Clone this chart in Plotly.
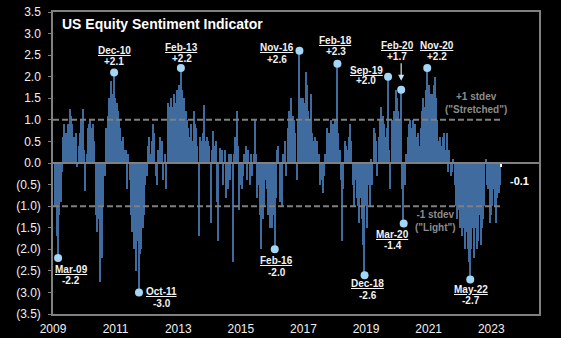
import pandas as pd
import plotly.graph_objects as go

# ---------------- data (semi-monthly readings, 1st and 15th) ----------------
v2009 = [-1.0, -1.7, -2.2, -1.2, -0.9, -0.2, 0.6, 0.9, 0.7, 0.5, 0.9, 1.25,
         1.1, 0.9, 0.6, 0.5, 0.7, -0.1, 0.4, 0.7, 1.0, 1.25]  # from Feb
v2010 = [0.3, -0.65, 0.2, 0.8, 0.9, 1.0, 0.8, 0.9, 0.5, -1.2, -1.6, -1.3,
         -2.75, -1.8, -2.2, -1.0, -0.3, 0.8, 1.1, 1.5, 1.3, 1.9, 1.6, 2.1]
v2011 = [1.5, 1.4, 1.2, 1.0, 0.8, 0.5, 0.6, 0.3, 0.3, -0.6, 0.2, -0.4,
         -1.2, -1.6, -2.0, -1.9, -2.5, -1.8, -3.0, -2.1, -2.0, -1.5, -1.2, -0.5]
v2012 = [-0.3, 0.4, 0.6, 0.2, 0.5, 0.9, 0.7, -0.3, -0.5, 0.3, 0.6, 0.2,
         0.5, -0.4, 0.2, -0.6, 1.4, 1.0, 1.3, 1.5, 1.3, 1.6, 1.4, 1.7]
v2013 = [1.6, 1.8, 2.2, 1.7, 1.4, 1.5, 1.2, 1.0, 0.8, 0.6, 0.9, 0.5,
         1.2, 0.9, 0.8, 0.4, -1.7, 0.6, 0.5, 0.7, 1.35, 0.5, 0.6, 0.5]
v2014 = [0.4, -1.4, 0.3, 0.75, 0.4, 0.5, -0.9, -1.8, 0.35, 0.2, 0.3, -0.5,
         0.3, -0.8, -0.6, 0.2, -0.4, 0.2, -2.3, 0.2, 0.6, 1.2, 0.4, -1.1]
v2015 = [-0.5, -0.6, -0.3, 0.2, 0.4, -0.4, 0.3, -0.5, 0.2, -0.3, 0.2, 1.0,
         0.2, -0.8, -0.5, -1.2, -2.0, -1.3, -1.0, -0.4, -0.6, -1.2, -1.0, -1.5]
v2016 = [-1.5, -1.2, -2.0, -0.8, 0.3, 0.4, -0.9, -0.6, -1.0, 0.2, 0.5, -0.3,
         0.8, 1.2, 1.0, 1.5, 1.1, 1.0, 0.7, -0.4, 1.0, 2.6, 1.5, 1.3]
v2017 = [1.5, 1.4, 2.1, 1.8, 1.2, 1.0, 1.6, 0.7, 0.5, 0.6, 0.4, 0.5,
         0.2, -0.5, -0.4, -0.7, -0.3, 0.2, 0.8, 0.5, 0.7, 1.0, 0.6, 0.9]
v2018 = [1.0, 0.8, 2.3, 0.7, 0.3, -0.4, -1.8, -0.6, 0.5, 0.4, 0.3, 0.6,
         0.9, 0.5, -0.5, -1.0, -0.4, -0.8, -1.0, -1.4, -0.8, -1.3, -1.9, -2.6]
v2019 = [-1.0, -1.5, -0.5, -1.0, 0.1, -0.5, 0.8, 0.7, 0.5, -0.3, 0.6, 1.0,
         1.3, 1.1, 0.9, 0.6, 0.8, 2.0, 0.3, -0.6, 1.0, 0.8, 1.2, 1.7]
v2020 = [1.5, 1.2, 1.0, 1.7, -0.6, -1.4, -0.5, 0.2, 0.6, 0.9, 1.0, 0.8,
         1.0, 0.8, 0.9, 0.6, 0.7, 0.4, 0.8, 1.2, 1.5, 1.3, 1.7, 2.2]
v2021 = [1.8, 1.6, 1.4, 1.6, 1.8, 2.0, 1.5, 1.0, 0.5, 0.6, 0.4, 0.6,
         0.7, 0.3, 0.7, -0.2, 0.3, -0.3, -0.2, 0.1, -0.5, -1.0, -1.3, -1.1]
v2022 = [-1.5, -1.3, -1.7, -1.5, -2.0, -1.6, -2.0, -2.3, -2.7, -2.0, -1.5, -2.2,
         -1.5, -2.0, -1.8, -1.2, -1.9, -1.5, -1.3, -1.0, 0.1, -0.5, -0.6, -1.4]
v2023 = [-1.2, -1.0, -0.6, -1.0, -1.4, -0.8, -0.7, -0.5, -0.1]  # to May

values = (v2009 + v2010 + v2011 + v2012 + v2013 + v2014 + v2015 + v2016 +
          v2017 + v2018 + v2019 + v2020 + v2021 + v2022 + v2023)
start_date = "2009-02-01"
stdev_levels = [1.0, -1.0]

# labelled extremes
label_dates = ["2009-03-01", "2010-12-15", "2011-10-01", "2013-02-01", "2016-02-01",
               "2016-11-15", "2018-02-01", "2018-12-15", "2019-09-15", "2020-02-15",
               "2020-03-15", "2020-12-15", "2022-05-01"]
label_names = ["Mar-09", "Dec-10", "Oct-11", "Feb-13", "Feb-16", "Nov-16", "Feb-18",
               "Dec-18", "Sep-19", "Feb-20", "Mar-20", "Nov-20", "May-22"]
label_texts = ["-2.2", "+2.1", "-3.0", "+2.2", "-2.0", "+2.6", "+2.3",
               "-2.6", "+2.0", "+1.7", "-1.4", "+2.2", "-2.7"]
# (xshift px, name yshift px, value yshift px)
label_offsets = [(13, -11.5, -23), (0, 21.5, 10.5), (23, 0.5, -11), (1, 21, 10),
                 (2, -11.5, -23), (-22.5, 3, -8.5), (-1.5, 23, 12), (3, -8.5, -20),
                 (-22, 6, -4), (-4, 44.5, 33), (-11, -11.5, -22.5), (10, 23, 11.5),
                 (0.5, -10.5, -21.5)]

year_ticks = [2009, 2011, 2013, 2015, 2017, 2019, 2021, 2023]
y_ticks = [3.5, 3.0, 2.5, 2.0, 1.5, 1.0, 0.5, 0.0, -0.5, -1.0, -1.5, -2.0, -2.5, -3.0, -3.5]
y_ticktext = ["3.5", "3.0", "2.5", "2.0", "1.5", "1.0", "0.5", "0.0",
              "(0.5)", "(1.0)", "(1.5)", "(2.0)", "(2.5)", "(3.0)", "(3.5)"]

# ---------------- figure ----------------
dates = pd.date_range(start_date, periods=len(values), freq="SMS")
series = pd.Series(values, index=dates)

FONT = "Liberation Sans, Arial, sans-serif"
BAR = "#3f6b9e"
GRAY = "#808080"
DOT = "#a4d6f7"

colors = [BAR] * (len(values) - 1) + ["#ffffff"]
widths = [16 * 86400000] * (len(values) - 1) + [20 * 86400000]

fig = go.Figure()
fig.add_trace(go.Bar(x=dates, y=values, width=widths,
                     marker=dict(color=colors, line=dict(width=0)),
                     hoverinfo="skip", showlegend=False))

ld = pd.to_datetime(label_dates)
fig.add_trace(go.Scatter(x=ld, y=[series[d] for d in ld], mode="markers",
                         marker=dict(color=DOT, size=8, line=dict(width=0)),
                         hoverinfo="skip", showlegend=False))

shapes = []
for lv in stdev_levels:
    shapes.append(dict(type="line", xref="x", yref="y", x0="2009-01-01", x1=dates[-1],
                       y0=lv, y1=lv, line=dict(color=GRAY, width=2, dash="6px,3px"),
                       layer="above"))
shapes.append(dict(type="line", xref="paper", yref="y", x0=0, x1=1, y0=0, y1=0,
                   line=dict(color=GRAY, width=2), layer="above"))

ann = []
ann.append(dict(text="<b>US Equity Sentiment Indicator</b>", xref="paper", yref="paper",
                x=(60 - 53) / 486, y=1 - 12 / 302, xanchor="left", yanchor="middle",
                showarrow=False, font=dict(family=FONT, size=14, color="#ffffff")))
for d, name, txt, (dx, dyl, dyv) in zip(ld, label_names, label_texts, label_offsets):
    yv = series[d]
    ann.append(dict(text="<b>" + name + "</b>", x=d, y=yv, xshift=dx, yshift=dyl,
                    showarrow=False, xanchor="center", yanchor="middle",
                    font=dict(family=FONT, size=10, color="#f2f2f2", lineposition="under")))
    ann.append(dict(text="<b>" + txt + "</b>", x=d, y=yv, xshift=dx, yshift=dyv,
                    showarrow=False, xanchor="center", yanchor="middle",
                    font=dict(family=FONT, size=10, color="#f2f2f2")))
# arrow for Feb-20
fd = pd.Timestamp("2020-02-15")
ann.append(dict(text="", x=fd, y=series[fd], showarrow=True, ax=0, ay=-28, standoff=9,
                arrowhead=2, arrowsize=1, arrowwidth=1.2, arrowcolor="#c8e6fa"))
# stdev notes
ann.append(dict(text='<b>+1 stdev</b><br><b>("Stretched")</b>', xref="paper", yref="y",
                x=(476 - 53) / 486, y=1.40, showarrow=False, xanchor="center",
                yanchor="middle", font=dict(family=FONT, size=10, color="#8c8c8c")))
ann.append(dict(text='<b>-1 stdev</b><br><b>("Light")</b>', xref="paper", yref="y",
                x=(435.5 - 53) / 486, y=-1.34, showarrow=False, xanchor="center",
                yanchor="middle", font=dict(family=FONT, size=10, color="#8c8c8c")))
# last value
ann.append(dict(text="<b>%.1f</b>" % values[-1], x=dates[-1], y=values[-1], xshift=6,
                yshift=-14, showarrow=False, xanchor="left", yanchor="middle",
                font=dict(family=FONT, size=11, color="#ffffff")))

fig.update_layout(
    width=561, height=338,
    margin=dict(l=53, r=22, t=12, b=24, pad=0, autoexpand=False),
    paper_bgcolor="#000000", plot_bgcolor="#000000",
    bargap=0, showlegend=False,
    shapes=shapes, annotations=ann,
    font=dict(family=FONT, size=12, color="#f0f0f0"),
    xaxis=dict(type="date", range=["2009-01-01", "2024-07-11"], automargin=False,
               tickvals=[pd.Timestamp(f"{y}-01-01") for y in year_ticks],
               ticktext=[str(y) for y in year_ticks],
               showgrid=False, zeroline=False, showline=True, mirror=True,
               linecolor=GRAY, linewidth=1.5, ticks="", ticklabelstandoff=3,
               tickfont=dict(family=FONT, size=12, color="#f0f0f0")),
    yaxis=dict(range=[-3.5, 3.5], tickvals=y_ticks, ticktext=y_ticktext, automargin=False,
               showgrid=False, zeroline=False, showline=True, mirror=True,
               linecolor=GRAY, linewidth=1.5, ticks="outside", ticklen=3,
               tickcolor=GRAY, ticklabelstandoff=5,
               tickfont=dict(family=FONT, size=12, color="#f0f0f0")),
)

fig.write_html("out.html")
